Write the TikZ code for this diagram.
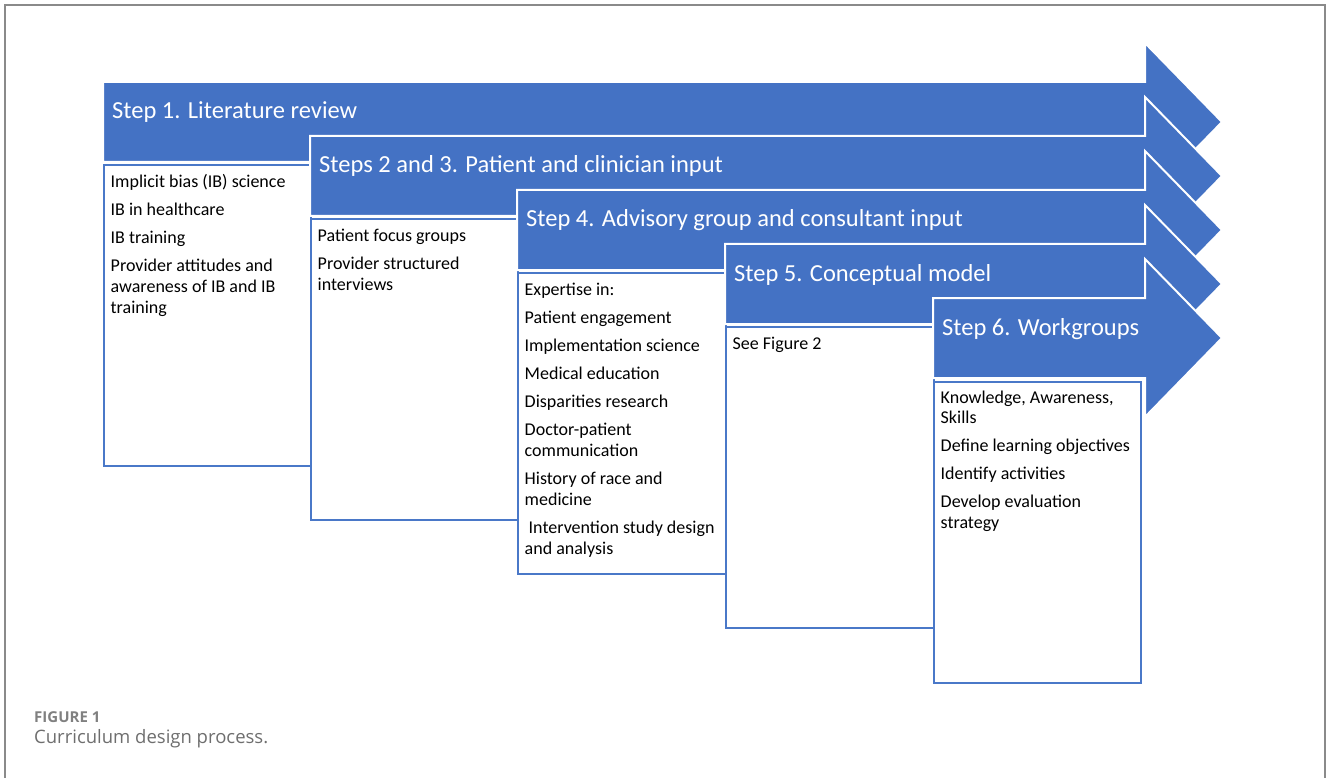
\documentclass[tikz,border=0pt]{standalone}
\usepackage{fontspec}
\setmainfont{Carlito}
\newfontfamily\capfont{Open Sans}
\definecolor{stepblue}{HTML}{4472C4}
\definecolor{boxblue}{HTML}{4A78C8}
\definecolor{framegray}{HTML}{8A8A8A}
\definecolor{capgray}{HTML}{6E6E6E}
\definecolor{figgray}{HTML}{808080}
\tikzset{
  steparrow/.style={fill=stepblue, draw=white, line width=2pt, line join=miter},
  stepbox/.style={draw=boxblue, line width=2pt, fill=white, anchor=north west,
    minimum width=#1, minimum height=301, inner sep=0pt},
  stepbox/.default=207,
  steptitle/.style={text=white, font=\fontsize{24.5}{29}\selectfont, anchor=base west, inner sep=0pt},
  boxtext/.style={font=\fontsize{18}{21}\selectfont, align=left, anchor=north west, inner sep=0pt},
}
\begin{document}
\begin{tikzpicture}[x=1pt,y=-1pt]
\useasboundingbox (0,0) rectangle (1328,778);
\draw[framegray, line width=1.5pt] (5,778) -- (5,5) -- (1325,5) -- (1325,778);

% Step 1
\draw[steparrow] (103,82) -- (1145,82) -- (1145,43) -- (1222,122) -- (1145,201) -- (1145,162) -- (103,162) -- cycle;
\node[stepbox=207] (b1) at (103,164) {};
% Step 2-3
\draw[steparrow] (310,136) -- (1145,136) -- (1145,97) -- (1222,176) -- (1145,255) -- (1145,216) -- (310,216) -- cycle;
\node[stepbox=207] (b2) at (310,218) {};
% Step 4
\draw[steparrow] (517,190) -- (1145,190) -- (1145,151) -- (1222,230) -- (1145,309) -- (1145,270) -- (517,270) -- cycle;
\node[stepbox=208] (b3) at (517,272) {};
% Step 5
\draw[steparrow] (725,244) -- (1145,244) -- (1145,205) -- (1222,284) -- (1145,363) -- (1145,324) -- (725,324) -- cycle;
\node[stepbox=208] (b4) at (725,326) {};
% Step 6
\draw[steparrow] (933,298) -- (1145,298) -- (1145,259) -- (1222,338) -- (1145,417) -- (1145,378) -- (933,378) -- cycle;
\node[stepbox=207] (b5) at (933,381) {};

% titles
\node[steptitle] (h1) at (112,119) {Step 1. Literature review};
\node[steptitle] (h2) at (319,173) {Steps 2 and 3. Patient and clinician input};
\node[steptitle] (h3) at (526,227) {Step 4. Advisory group and consultant input};
\node[steptitle] (h4) at (734,281) {Step 5. Conceptual model};
\node[steptitle] (h5) at (942,335) {Step 6. Workgroups};

% box texts
\node[boxtext] (t1) at (110.5,172.8) {\strut Implicit bias (IB) science\\[7pt]
IB in healthcare\\[7pt]
IB training\\[7pt]
Provider attitudes and\\
awareness of IB and IB\\
training};
\node[boxtext] (t2) at (317.5,226.8) {\strut Patient focus groups\\[7pt]
Provider structured\\
interviews};
\node[boxtext] (t3) at (524.5,280.8) {\strut Expertise in:\\[7pt]
Patient engagement\\[7pt]
Implementation science\\[7pt]
Medical education\\[7pt]
Disparities research\\[7pt]
Doctor-patient\\
communication\\[7pt]
History of race and\\
medicine\\[7pt]
\hspace{4pt}Intervention study design\\
and analysis};
\node[boxtext] (t4) at (732.5,334.8) {\strut See Figure 2};
\node[boxtext] (t5) at (940.5,388.8) {\strut Knowledge, Awareness,\\[-1pt]
Skills\\[7pt]
Define learning objectives\\[7pt]
Identify activities\\[7pt]
Develop evaluation\\
strategy};

% caption
\node[anchor=base west, inner sep=0pt, text=figgray, font=\capfont\bfseries\fontsize{15}{18}\selectfont] (fig) at (34,722) {FIGURE 1};
\node[anchor=base west, inner sep=0pt, text=capgray, font=\capfont\fontsize{18.5}{22}\selectfont] (cap) at (34,743) {Curriculum design process.};
\end{tikzpicture}
\end{document}
